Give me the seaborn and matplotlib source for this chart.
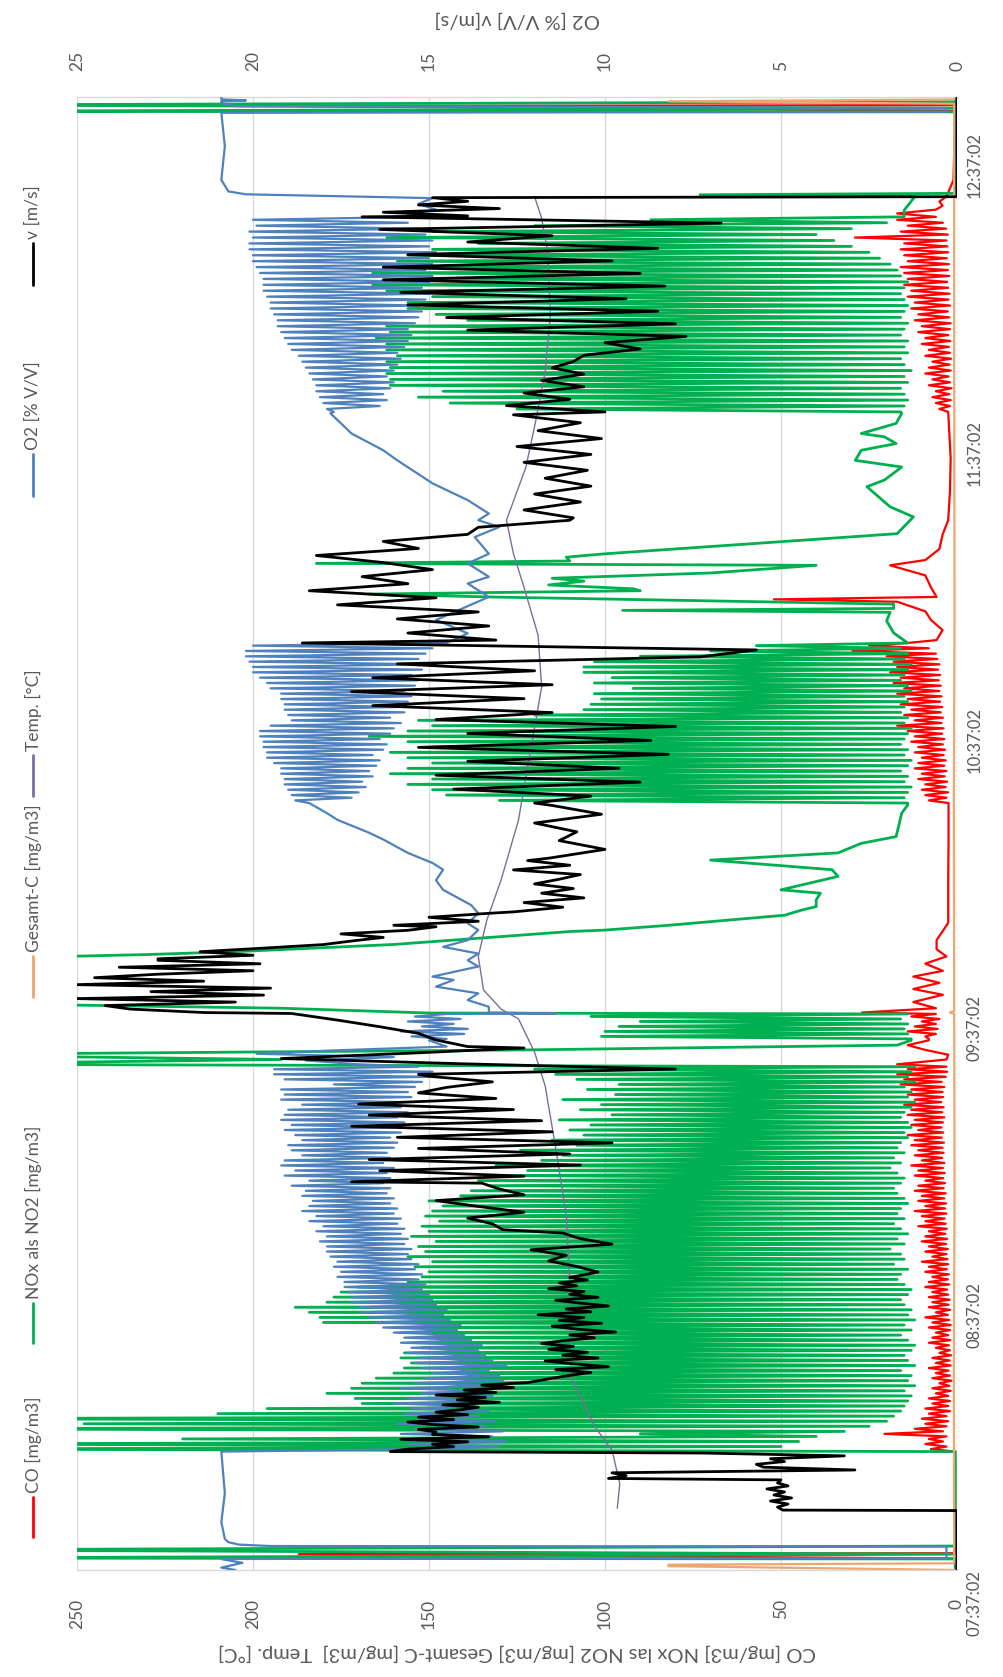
import numpy as np
import pandas as pd
import matplotlib
matplotlib.use('Agg')
import matplotlib.pyplot as plt
import seaborn as sns
from matplotlib.lines import Line2D

sns.set_style('white')
plt.rcParams['font.family'] = ['Lato', 'DejaVu Sans']

TEXT = '#595959'
GRID = '#D9D9D9'

# ---------------- axes / labels ----------------
time_ticks = [0, 60, 120, 180, 240, 300]          # minutes after 07:37:02
time_labels = ['07:37:02', '08:37:02', '09:37:02', '10:37:02', '11:37:02', '12:37:02']
t_max = 307.3
prim_ticks = [0, 50, 100, 150, 200, 250]
sec_ticks = [0, 5, 10, 15, 20, 25]
names = ['CO [mg/m3]', 'NOx als NO2 [mg/m3]', 'Gesamt-C [mg/m3]', 'Temp. [°C]', 'O2 [% V/V]', 'v [m/s]']
colors = ['#FF0000', '#00B050', '#EDA66E', '#7A6E9E', '#4F81BD', '#000000']
prim_title = 'CO [mg/m3] NOx las NO2 [mg/m3] Gesamt-C [mg/m3]  Temp. [°C]'
sec_title = 'O2 [% V/V] v[m/s]'

# ---------------- block timing (minutes) ----------------
blockA = (24.7, 105.0)
blockB = (110.8, 116.0)
blockC = (160.0, 193.4)
blockD = (241.6, 282.3)

# ---------------- NOx ----------------
nox_A_hi = [300, 300, 220, 90, 300, 248, 300, 210, 196, 169,
            171, 179, 172, 169, 165, 160, 157, 155, 158, 157,
            152, 153, 150, 155, 155, 180, 181, 184, 188, 179,
            177, 175, 170, 156, 152, 150, 154, 149, 156, 151,
            153, 148, 155, 150, 152, 147, 151, 149, 146, 150,
            141, 138, 133, 136, 128, 122, 131, 118, 112, 124,
            108, 115, 106, 110, 104, 113, 98, 107, 101, 112,
            97, 105, 96, 108, 114, 120]
nox_A_lo = [0.5, 50, 45, 40, 32, 25, 20, 18, 16, 15,
            14, 13, 15, 12, 14, 13, 16, 12, 14, 15,
            13, 12, 14, 16, 13, 15, 12, 14, 13, 15,
            16, 14, 13, 15, 17, 16, 14, 18, 15, 16,
            19, 15, 17, 14, 16, 18, 15, 17, 16, 14,
            15, 17, 18, 16, 15, 17, 19, 16, 18, 15,
            17, 16, 14, 15, 13, 14, 16, 15, 13, 12,
            14, 13, 15, 12, 14, 13, 12]
nox_B_hi = [101, 100, 96, 90, 104]
nox_B_lo = [13, 14, 15, 14, 16, 14]
nox_C_hi = [130, 145, 149, 156, 149, 161, 156, 149, 156, 161,
            149, 156, 167, 156, 149, 153, 120, 106, 104, 101,
            103, 92, 103, 98, 106, 106, 103, 90, 70, 57]
nox_C_lo = [14, 15, 14, 13, 15, 14, 16, 14, 13, 15,
            14, 16, 15, 14, 13, 15, 14, 16, 15, 14,
            15, 13, 14, 16, 15, 14, 13, 15, 14, 16, 14]
nox_D_hi = [125, 144, 153, 146, 161, 161, 162, 161, 162, 159,
            162, 162, 165, 161, 162, 139, 148, 156, 156, 149,
            162, 166, 149, 166, 159, 159, 156, 149, 136, 162,
            149, 120, 87]
nox_D_lo = [16, 15, 14, 15, 16, 14, 15, 13, 15, 16,
            14, 15, 14, 16, 15, 14, 16, 15, 14, 15,
            16, 15, 14, 16, 17, 19, 22, 25, 30, 35,
            40, 30, 20, 15]
nox_p1_t = [0.0, 2.3, 2.5, 3.3, 4.2, 5.0, 24.5]
nox_p1_v = [0.5, 0.5, 300, 0.5, 300, 0.5, 0.5]
nox_p2_t = [105.5, 106.5, 107.5, 108.5, 109.5, 110.5]
nox_p2_v = [300, 192, 300, 123, 17, 13]
nox_p3_t = [116.2, 117.2, 118.4, 122.0, 127.2, 128.4, 129.0, 130.5, 131.8, 133.2, 133.5, 134.5,
            136.6, 137.7, 138.4, 139.8, 141.2, 141.9, 144.7, 146.1, 148.1, 149.6, 151.6, 153.0,
            157.9, 159.6]
nox_p3_v = [150, 192, 300, 300, 300, 230, 205, 160, 136, 110, 100, 82,
            49, 44, 40, 40, 38.8, 50, 33.8, 35.5, 70, 33.8, 27.2, 17.3,
            15.7, 14.0]
nox_p4_t = [195.5, 198.0, 199.8, 200.2, 200.6, 201.5, 203.0, 203.6, 204.3, 204.7, 205.5, 206.3,
            206.9, 208.0, 209.6, 210.0, 210.5, 211.3, 212.0, 216.2, 219.7, 221.8, 226.0, 227.4,
            230.1, 231.5, 233.6, 235.0, 236.4, 237.1, 239.2, 241.3]
nox_p4_v = [18, 20, 19, 95, 18, 18, 133, 167, 90, 92, 116, 106,
            115, 70, 40, 182, 110, 111, 100, 17, 12.4, 19, 25.6, 20.6,
            15.7, 28.9, 27.2, 17.3, 20.6, 27.2, 17.3, 15.7]
nox_p5_t = [283.7, 286.5, 286.9, 287.2, 304.2, 304.3, 304.97, 305.63, 306.3, 307.3]
nox_p5_v = [15, 12, 73, 0.5, 0.5, 300, 0.5, 300, 0.5, 0.5]

# ---------------- CO ----------------
co_A_hi = [7.4, 9, 8, 20.6, 12, 9, 10, 8, 9, 7,
           8, 6, 7, 5, 7, 6, 8, 6, 7, 5,
           6, 8, 7, 6, 8, 7, 9, 6, 8, 7,
           8, 7, 9, 8, 7, 9, 8, 10, 7, 9,
           8, 10, 9, 8, 11, 9, 10, 12, 9, 11,
           10, 12, 11, 9, 12, 11, 13, 10, 12, 11,
           13, 12, 14, 11, 13, 12, 14, 13, 15, 12,
           14, 13, 16, 15, 17, 14]
co_A_lo = [0.5, 3, 4, 3, 4, 3, 2.5, 3, 2, 2.5,
           2, 2.5, 1.8, 2.2, 1.6, 2, 2.4, 1.8, 2.1, 1.7,
           2, 2.3, 1.9, 2.5, 2, 1.8, 2.2, 2.6, 2, 2.4,
           2.1, 2.5, 2.8, 2.2, 2.6, 2.3, 2.9, 2.5, 2.7, 3,
           2.6, 3.1, 2.8, 3.3, 2.9, 3.2, 3.5, 3, 3.4, 3.1,
           3.6, 3.2, 3.8, 3.4, 3.9, 3.5, 4, 3.6, 4.2, 3.8,
           4.1, 3.7, 4.3, 3.9, 4.4, 4, 3.6, 4.2, 3.8, 4.5,
           3.9, 4.1, 3.6, 4.4, 3.2, 2.8, 3]
co_B_hi = [9, 14, 12, 10, 13]
co_B_lo = [8, 6, 5.5, 6, 5, 6]
co_C_hi = [8, 9, 10, 9, 11, 10, 12, 11, 10, 12,
           11, 13, 12, 14, 17, 12, 15, 13, 16, 14,
           17, 15, 18, 16, 19, 17, 18, 20, 29.7, 25]
co_C_lo = [2.4, 3, 2.5, 3.2, 2.8, 3.5, 3, 3.6, 3.2, 3.8,
           3.4, 4, 3.6, 4.2, 3.8, 4.4, 4, 4.6, 4.2, 4.8,
           4.4, 5, 4.6, 5.2, 4.8, 5.4, 5, 5.6, 6, 8, 14]
co_D_hi = [5, 6, 7, 6, 8, 7, 9, 8, 7, 9,
           8, 10, 9, 11, 10, 12, 11, 13, 12, 14,
           13, 15, 14, 15, 16, 14, 15, 16, 15, 29,
           16, 14, 17]
co_D_lo = [2.5, 2, 1.8, 2.2, 1.6, 2, 2.4, 1.8, 2.1, 1.7,
           2, 2.3, 1.9, 2.5, 2, 1.8, 2.2, 2.6, 2, 2.4,
           2.1, 2.5, 2.8, 2.2, 2.6, 2.3, 2.9, 2.5, 2.7, 3,
           2.6, 3.1, 4, 6]
co_p1_t = [0.0, 2.4, 3.3, 3.5, 24.5]
co_p1_v = [0.5, 0.5, 187, 0.5, 0.5]
co_p2_t = [105.5, 106.5, 107.5, 108.5, 109.5, 110.5]
co_p2_v = [17, 3, 2.5, 9, 14, 8]
co_p3_t = [116.3, 117.2, 118.5, 120.0, 121.2, 122.5, 123.8, 125.0, 126.5, 128.0, 129.5, 131.4,
           135.0, 144.0, 152.0, 159.6]
co_p3_v = [27, 6, 12.4, 4, 12.4, 5, 12.4, 4, 9, 3, 5.8, 5.8,
           2.5, 2.5, 2.4, 2.4]
co_p4_t = [194.0, 196.1, 198.2, 200.0, 202.0, 202.5, 203.0, 205.0, 207.5, 209.6, 210.7, 213.0,
           216.0, 219.0, 225.0, 232.0, 241.3]
co_p4_v = [5.8, 4.1, 7.4, 9, 17, 52, 5.8, 7.4, 9, 19, 9, 5,
           4.1, 2.5, 2.0, 1.8, 2.5]
co_p5_t = [283.0, 283.8, 284.6, 285.5, 286.5, 290.0, 304.4, 305.4, 305.6, 307.3]
co_p5_v = [17, 6, 4.1, 5, 3, 1.0, 0.5, 187, 0.5, 0.5]

# ---------------- Gesamt-C ----------------
gc_t = [0.0, 0.8, 1.1, 1.4, 40, 80, 116.0, 116.3, 116.6, 160, 200, 250, 305.9, 306.4, 306.8, 307.3]
gc_v = [0.2, 82, 82, 0.8, 0.9, 0.7, 0.8, 2.0, 0.8, 0.9, 0.7, 0.8, 0.8, 82, 0.8, 0.8]

# ---------------- Temp ----------------
temp_t = [12.9, 18, 25, 30, 40, 60, 74, 88, 101, 108, 115, 117, 121, 128, 135.5, 144, 156.4,
          170.3, 184.2, 195, 205, 212, 219, 230, 240, 250, 262, 275, 282, 286.5]
temp_v = [96.5, 95.8, 98, 103, 109.5, 110, 111, 114, 117, 120, 124.6, 129.5, 134.5, 136, 133.6,
          129.5, 124.6, 121.3, 118, 119, 123, 126, 128, 122.5, 119.6, 117, 115.5, 116.3, 118, 120]

# ---------------- O2 ----------------
o2_A_hi = [15.2, 15.6, 15.0, 15.8, 15.4, 15.9, 15.3, 15.7, 15.5, 16.0,
           15.6, 15.2, 15.8, 15.4, 15.1, 14.9, 15.2, 15.4, 15.3, 15.6,
           15.5, 15.8, 15.7, 16.0, 16.3, 16.5, 16.7, 16.9, 17.0, 17.2,
           17.2, 17.3, 17.4, 17.4, 17.6, 17.5, 17.7, 17.6, 17.8, 17.9,
           17.9, 18.1, 17.9, 18.2, 18.0, 18.4, 18.2, 18.6, 18.4, 18.3,
           18.6, 18.5, 18.9, 18.4, 19.1, 18.8, 19.2, 19.1, 18.6, 18.9,
           19.0, 18.6, 18.8, 19.1, 18.9, 19.2, 19.1, 19.0, 18.6, 19.2,
           19.1, 19.2, 17.7, 19.1, 19.4, 19.4]
o2_A_lo = [20.9, 13.0, 12.8, 13.2, 12.9, 13.4, 13.1, 13.6, 13.3, 13.7,
           13.4, 13.2, 13.5, 13.1, 12.9, 13.0, 13.3, 12.8, 13.2, 13.4,
           13.6, 13.5, 13.8, 14.0, 14.2, 14.1, 14.4, 14.6, 14.5, 14.8,
           14.9, 15.0, 15.2, 15.1, 15.3, 15.2, 15.4, 15.3, 15.5, 15.6,
           15.5, 15.7, 15.6, 15.8, 15.7, 15.9, 15.8, 16.0, 15.9, 16.1,
           16.0, 16.2, 16.1, 16.3, 16.1, 16.2, 16.0, 16.3, 16.1, 16.2,
           16.0, 15.9, 16.1, 15.8, 16.0, 15.7, 15.9, 15.6, 15.8, 15.7,
           15.5, 15.6, 15.4, 15.2, 15.0, 14.9, 15.3]
o2_B_hi = [15.5, 15.8, 15.2, 15.6, 15.4]
o2_B_lo = [14.5, 14.0, 13.9, 14.3, 14.1, 14.5]
o2_C_hi = [18.8, 18.9, 19.0, 19.1, 19.1, 19.2, 19.2, 19.4, 19.6, 19.6,
           19.7, 19.7, 19.8, 19.8, 19.5, 18.9, 19.0, 19.1, 19.1, 19.2,
           19.2, 19.5, 19.6, 19.8, 20.0, 20.0, 20.1, 20.2, 20.2, 20.0]
o2_C_lo = [18.4, 17.2, 17.0, 16.8, 16.9, 16.6, 16.7, 16.5, 16.4, 16.6,
           16.3, 16.2, 16.4, 16.1, 16.0, 15.8, 16.1, 15.7, 15.9, 15.6,
           15.5, 15.7, 15.4, 15.3, 15.5, 15.2, 15.0, 15.3, 15.1, 14.9, 14.5]
o2_D_hi = [17.9, 18.0, 18.1, 18.2, 18.2, 18.3, 18.4, 18.5, 18.6, 18.7,
           18.9, 19.0, 19.1, 19.2, 19.3, 19.3, 19.4, 19.5, 19.5, 19.6,
           19.7, 19.7, 19.7, 19.8, 19.9, 20.0, 20.0, 20.1, 20.1, 20.0,
           20.1, 19.9, 20.0]
o2_D_lo = [17.7, 16.4, 16.2, 16.3, 16.1, 16.0, 16.2, 16.0, 15.9, 15.8,
           15.9, 15.7, 15.6, 15.5, 15.6, 15.4, 15.3, 15.2, 15.3, 15.1,
           15.0, 15.2, 15.0, 14.9, 15.1, 14.9, 15.0, 14.8, 15.0, 14.9,
           15.1, 15.3, 15.6, 15.2]
o2_p1_t = [0.0, 0.5, 1.0, 1.5, 2.0, 2.3, 2.45, 4.9, 5.0, 5.3, 5.8, 6.5, 10, 16, 24.5]
o2_p1_v = [20.5, 20.9, 20.6, 20.3, 20.7, 20.9, 0.3, 0.3, 19.5, 20.4, 20.7, 20.8, 20.9, 20.8, 20.9]
o2_p2_t = [105.5, 106.3, 107.0, 107.7, 108.4, 109.2, 110.5]
o2_p2_v = [17.0, 18.5, 16.0, 19.9, 17.7, 14.5, 15.0]
o2_p3_t = [116.1, 116.3, 117.5, 118.9, 120.3, 121.7, 123.1, 123.8, 125.9, 127.2, 128.6, 130.0,
           131.4, 133.5, 134.9, 137.0, 138.7, 141.9, 143.9, 146.1, 147.5, 149.6, 152.4, 153.8,
           156.5, 157.9, 159.6]
o2_p3_v = [11.4, 13.3, 13.3, 13.9, 13.6, 14.8, 14.3, 14.9, 13.6, 13.9, 13.6, 14.6,
           13.9, 13.6, 13.9, 13.6, 13.8, 14.6, 14.8, 14.6, 14.9, 15.6, 16.3, 16.7,
           17.6, 17.9, 18.3]
o2_p4_t = [195.4, 198.2, 203.0, 205.8, 207.2, 210.0, 212.0, 215.5, 217.6, 219.0, 220.4, 223.2,
           226.7, 231.5, 233.6, 237.1, 241.3]
o2_p4_v = [13.9, 14.8, 13.3, 13.9, 13.3, 13.9, 13.3, 13.7, 13.0, 13.6, 13.3, 13.9,
           14.9, 15.9, 16.3, 17.2, 17.8]
o2_p5_t = [282.8, 283.8, 285.0, 286.2, 286.6, 287.0, 287.6, 290, 297, 304.0, 304.2, 305.0,
           305.4, 306.0, 306.4, 306.6, 306.8, 307.3]
o2_p5_v = [15.6, 14.8, 15.3, 14.9, 17.5, 20.2, 20.7, 20.9, 20.8, 20.9, 0.3, 0.3,
           20.5, 20.9, 20.9, 20.2, 20.9, 20.9]

# ---------------- v (regularly sampled pieces: start, end, values) ----------------
v_pieces = [
    (0.0, 12.4, [0, 0]),
    (12.5, 18.8, [4.95, 5.1, 4.8, 5.3, 4.7, 5.2, 4.9, 5.4, 4.8, 5.1, 5.0]),
    (19.1, 24.4, [9.9, 9.4, 9.8, 2.9, 5.5, 5.7, 4.9, 5.3, 3.2, 7.2]),
    (24.7, 39.6, [16.1, 15.6, 14.3, 14.9, 13.9, 15.8, 13.3, 14.9, 14.8, 15.3, 13.6, 14.9, 15.6, 14.3, 15.3,
                  13.9, 14.8, 14.1, 13.6, 14.6, 13.0, 14.2, 13.4, 14.8, 13.1, 14.0, 12.6, 13.5, 12.2, 11.8]),
    (40.0, 60.5, [11.5, 11.0, 10.4, 11.4, 9.9, 10.9, 11.7, 10.2, 11.2, 10.5, 11.6, 10.9, 11.8, 11.2, 10.3,
                  11.0, 9.7, 10.8, 11.5, 10.1, 11.3, 10.6, 11.9, 10.4, 11.1, 9.9, 10.7, 11.4, 10.2, 11.0,
                  10.6, 11.6, 10.8, 11.3, 10.5]),
    (61.0, 70.3, [11.0, 10.2, 10.8, 11.6, 11.1, 12.1, 9.8, 10.7, 11.2]),
    (71.0, 80.7, [12.9, 13.2, 13.9, 12.3, 13.6, 14.8, 12.3, 13.0, 13.5]),
    (81.0, 103.0, [17.2, 12.3, 16.4, 10.7, 16.7, 11.0, 15.3, 9.8, 15.9, 11.5, 17.2, 11.8, 16.7, 12.6, 17.0,
                   13.1, 15.3, 14.5, 13.2, 15.0]),
    (103.4, 108.9, [15.3, 8.0, 14.0, 19.2, 15.6, 12.3]),
    (109.2, 116.1, [13.9, 14.8, 15.3, 16.4, 17.6, 18.9]),
    (116.3, 127.2, [21.4, 23.5, 24.2, 20.5, 25.0, 19.7, 22.9, 19.5, 25.0, 21.4, 24.5, 22.7, 20.0, 23.8,
                    19.8, 22.7]),
    (127.5, 134.2, [22.7, 20.0, 21.5, 19.7, 18.0, 17.2, 16.3, 17.5, 15.6, 14.8]),
    (134.5, 137.0, [16.0, 13.6, 15.0, 13.3]),
    (137.3, 148.0, [12.6, 11.2, 12.3, 10.6, 11.8, 10.9, 12.0, 11.3, 10.7, 12.6, 11.0, 12.2]),
    (148.5, 159.5, [11.6, 10.0, 11.3, 10.8, 12.0, 10.1, 11.5]),
    (160.0, 193.4, [12.0, 10.4, 14.3, 9.0, 14.8, 9.6, 13.9, 8.2, 15.3, 8.7, 13.9, 8.0, 14.8, 11.5, 16.6,
                    12.3, 17.2, 11.5, 16.6, 12.0, 15.9, 7.3, 5.7, 18.6]),
    (194.0, 219.0, [13.1, 15.6, 13.3, 15.9, 13.6, 17.6, 14.8, 18.4, 15.6, 16.9, 14.9, 16.3, 18.2, 15.3,
                    16.3, 13.9, 13.6, 11.0]),
    (219.5, 241.0, [10.9, 12.3, 10.7, 12.0, 10.4, 11.7, 10.5, 12.3, 10.4, 12.5, 10.1, 11.9, 10.7, 12.6]),
    (241.6, 282.3, [10.0, 12.8, 11.0, 12.3, 10.6, 11.8, 10.6, 11.5, 10.9, 10.6, 9.0, 10.0, 7.7, 13.9, 8.0,
                    14.5, 8.5, 15.6, 9.4, 15.8, 8.3, 16.3, 9.0, 16.3, 9.8, 15.6, 8.5, 13.9, 11.5, 16.4,
                    6.7, 16.9]),
    (282.5, 286.3, [13.9, 16.3, 13.0, 15.3, 13.9, 14.9]),
    (286.5, 307.3, [0, 0]),
]


# ---------------- helpers to assemble the series ----------------
def zig(block, lows, highs):
    n = min(len(highs), len(lows) - 1)
    t = np.linspace(block[0], block[1], 2 * n + 1)
    v = []
    for i in range(n):
        v += [lows[i], highs[i]]
    v.append(lows[n])
    return list(t), v


def cat(*parts):
    tt, vv = [], []
    for t, v in parts:
        tt += list(t)
        vv += list(v)
    return pd.DataFrame({'t': tt, 'val': vv})


co_df = cat((co_p1_t, co_p1_v), zig(blockA, co_A_lo, co_A_hi), (co_p2_t, co_p2_v),
            zig(blockB, co_B_lo, co_B_hi), (co_p3_t, co_p3_v), zig(blockC, co_C_lo, co_C_hi),
            (co_p4_t, co_p4_v), zig(blockD, co_D_lo, co_D_hi), (co_p5_t, co_p5_v))
nox_df = cat((nox_p1_t, nox_p1_v), zig(blockA, nox_A_lo, nox_A_hi), (nox_p2_t, nox_p2_v),
             zig(blockB, nox_B_lo, nox_B_hi), (nox_p3_t, nox_p3_v), zig(blockC, nox_C_lo, nox_C_hi),
             (nox_p4_t, nox_p4_v), zig(blockD, nox_D_lo, nox_D_hi), (nox_p5_t, nox_p5_v))
gc_df = cat((gc_t, gc_v))
temp_df = cat((temp_t, temp_v))
o2_df = cat((o2_p1_t, o2_p1_v), zig(blockA, o2_A_lo, o2_A_hi), (o2_p2_t, o2_p2_v),
            zig(blockB, o2_B_lo, o2_B_hi), (o2_p3_t, o2_p3_v), zig(blockC, o2_C_lo, o2_C_hi),
            (o2_p4_t, o2_p4_v), zig(blockD, o2_D_lo, o2_D_hi), (o2_p5_t, o2_p5_v))
v_df = cat(*[(np.linspace(a, b, len(vals)), vals) for a, b, vals in v_pieces])

# ---------------- figure ----------------
W, H = 1004, 1677
fig = plt.figure(figsize=(W / 100, H / 100), dpi=100)
L, R, T, B = 77, 957, 97, 1570
ax = fig.add_axes([L / W, 1 - B / H, (R - L) / W, (B - T) / H])
ax2 = ax.twiny()

lw = {'CO': 1.6, 'NOx': 2.0, 'GC': 1.6, 'Temp': 1.0, 'O2': 1.6, 'v': 2.0}
common = dict(sort=False, estimator=None, orient='y', legend=False)
sns.lineplot(data=co_df, x='val', y='t', ax=ax, color=colors[0], lw=lw['CO'], **common)
sns.lineplot(data=nox_df, x='val', y='t', ax=ax, color=colors[1], lw=lw['NOx'], **common)
sns.lineplot(data=gc_df, x='val', y='t', ax=ax, color=colors[2], lw=lw['GC'], **common)
sns.lineplot(data=temp_df, x='val', y='t', ax=ax, color=colors[3], lw=lw['Temp'], **common)
sns.lineplot(data=o2_df, x='val', y='t', ax=ax2, color=colors[4], lw=lw['O2'], **common)
sns.lineplot(data=v_df, x='val', y='t', ax=ax2, color=colors[5], lw=lw['v'], **common)

ax.set_xlim(250, 0)
ax2.set_xlim(25, 0)
ax.set_ylim(0, t_max)
for a in (ax, ax2):
    a.set_xlabel('')
    a.set_ylabel('')

ax.set_xticks(prim_ticks)
ax.set_xticklabels([str(v) for v in prim_ticks])
ax.tick_params(axis='x', length=0, labelrotation=90, labelsize=12.5, labelcolor=TEXT, pad=21)
ax2.set_xticks(sec_ticks)
ax2.set_xticklabels([str(v) for v in sec_ticks])
ax2.tick_params(axis='x', length=0, labelrotation=90, labelsize=12.5, labelcolor=TEXT, pad=19)

ax.yaxis.tick_right()
ax.set_yticks(time_ticks)
ax.set_yticklabels(time_labels)
ax.tick_params(axis='y', length=0, labelsize=12, labelcolor=TEXT, pad=7)
for lbl in ax.get_yticklabels():
    lbl.set_rotation(90)
    lbl.set_va('top')
    lbl.set_ha('left')

ax.grid(axis='x', color=GRID, lw=1.0)
ax.grid(axis='y', visible=False)
ax2.grid(False)
ax.set_axisbelow(True)
for s in ['left', 'right']:
    ax.spines[s].set_visible(False)
for s in ['top', 'bottom']:
    ax.spines[s].set_color(GRID)
    ax.spines[s].set_linewidth(1.0)
for s in ax2.spines.values():
    s.set_visible(False)

# axis titles (the whole chart is turned a quarter turn)
fig.text(517 / W, 1 - 1653 / H, prim_title, rotation=180, ha='center', va='center',
         fontsize=14.5, color=TEXT)
fig.text(517 / W, 1 - 20 / H, sec_title, rotation=180, ha='center', va='center',
         fontsize=14.5, color=TEXT)

# legend, vertical along the left edge
leg_x = 33
leg_swatch = [(1537, 1497), (1343, 1303), (997, 956), (796, 755), (496, 454), (285, 243)]
for name, col, (y0, y1) in zip(names, colors, leg_swatch):
    fig.add_artist(Line2D([leg_x / W, leg_x / W], [1 - y0 / H, 1 - y1 / H], color=col, lw=2.0,
                          transform=fig.transFigure))
    fig.text(leg_x / W, 1 - (y1 - 4) / H, name, rotation=90, rotation_mode='anchor', ha='left',
             va='center', fontsize=12.5, color=TEXT)

fig.savefig('out.png', dpi=100)
